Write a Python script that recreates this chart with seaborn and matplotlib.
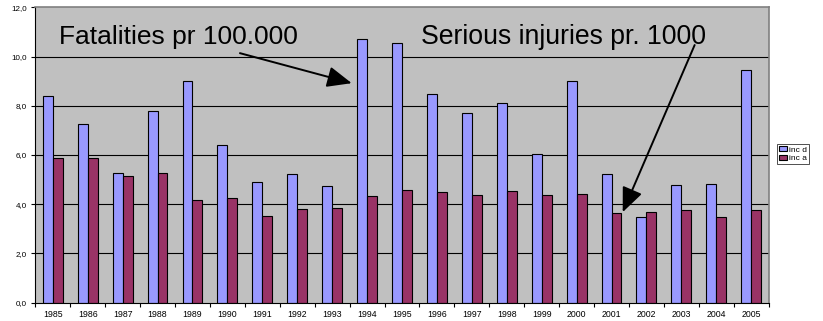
import matplotlib
matplotlib.use("Agg")
import matplotlib.pyplot as plt
import seaborn as sns
import pandas as pd
import numpy as np
from matplotlib.ticker import FixedLocator, FuncFormatter

years = [str(y) for y in range(1985, 2006)]
inc_d = [8.41, 7.27, 5.28, 7.80, 9.01, 6.42, 4.92, 5.21, 4.73, 10.73, 10.54,
         8.47, 7.69, 8.10, 6.05, 9.01, 5.21, 3.47, 4.79, 4.82, 9.47]
inc_a = [5.86, 5.86, 5.16, 5.26, 4.16, 4.27, 3.54, 3.82, 3.85, 4.35, 4.58,
         4.48, 4.37, 4.55, 4.37, 4.40, 3.64, 3.70, 3.75, 3.47, 3.75]
series_labels = ["inc d", "inc a"]
colors = ["#9999FF", "#993366"]
y_ticks = [0, 2, 4, 6, 8, 10, 12]

df = pd.DataFrame({
    "year": years * 2,
    "value": inc_d + inc_a,
    "series": [series_labels[0]] * len(years) + [series_labels[1]] * len(years),
})

sns.set_style("white")
plt.rcParams["font.family"] = ["Liberation Sans", "DejaVu Sans"]
plt.rcParams["text.color"] = "black"
plt.rcParams["xtick.color"] = "black"
plt.rcParams["ytick.color"] = "black"
plt.rcParams["xtick.labelcolor"] = "black"
plt.rcParams["ytick.labelcolor"] = "black"

fig = plt.figure(figsize=(8.23, 3.21), dpi=100)
ax = fig.add_axes([0.0429, 0.057, 0.8911, 0.920])
ax.set_facecolor("#C0C0C0")

sns.barplot(data=df, x="year", y="value", hue="series", order=years,
            hue_order=series_labels, palette=colors, width=0.57, gap=0,
            edgecolor="black", linewidth=0.8, saturation=1, ax=ax, legend=True)

ax.set_ylim(0, 12)
ax.set_xlim(-0.5, len(years) - 0.5)
ax.yaxis.set_major_locator(FixedLocator(y_ticks))
ax.yaxis.set_major_formatter(FuncFormatter(lambda v, p: f"{v:.1f}".replace(".", ",")))
for t in y_ticks[1:-1]:
    ax.axhline(t, color="black", lw=0.8, zorder=0.5)
ax.set_axisbelow(True)
ax.set_xlabel("")
ax.set_ylabel("")

for s in ["top", "right"]:
    ax.spines[s].set_color("#808080")
    ax.spines[s].set_linewidth(1.2)
for s in ["left", "bottom"]:
    ax.spines[s].set_color("black")
    ax.spines[s].set_linewidth(0.8)

ax.xaxis.set_minor_locator(FixedLocator(np.arange(-0.5, len(years), 1.0)))
ax.tick_params(axis="x", which="major", length=0, labelsize=6.3, pad=5, labelcolor="black")
ax.tick_params(axis="x", which="minor", length=3, width=0.8, direction="out", color="black")
ax.tick_params(axis="y", which="major", length=3, width=0.8, direction="out", labelsize=5.8, pad=3,
               color="black", labelcolor="black")
ax.tick_params(bottom=True, left=True, which="both")

ax.text(0.18, 10.79, "Fatalities pr 100.000", fontsize=19, va="center", ha="left", color="black")
ax.text(10.54, 10.79, "Serious injuries pr. 1000", fontsize=19.2, va="center", ha="left", color="black")

arrow = dict(arrowstyle="-|>,head_length=0.75,head_width=0.32", mutation_scale=20,
             lw=1.4, color="black", shrinkA=0, shrinkB=0)
ax.annotate("", xy=(8.56, 8.92), xytext=(5.36, 10.14), arrowprops=arrow)
ax.annotate("", xy=(16.32, 3.68), xytext=(18.38, 10.47), arrowprops=arrow)

leg = ax.legend(loc="upper left", bbox_to_anchor=(777 / 823, 1 - 144 / 321),
                bbox_transform=fig.transFigure, fontsize=6, frameon=True,
                fancybox=False, borderpad=0.25, handlelength=0.9, handleheight=0.6,
                handletextpad=0.3, labelspacing=0.1, borderaxespad=0)
leg.get_frame().set_edgecolor("black")
leg.get_frame().set_linewidth(0.6)
for txt in leg.get_texts():
    txt.set_color("black")

fig.savefig("out.png", dpi=100)
